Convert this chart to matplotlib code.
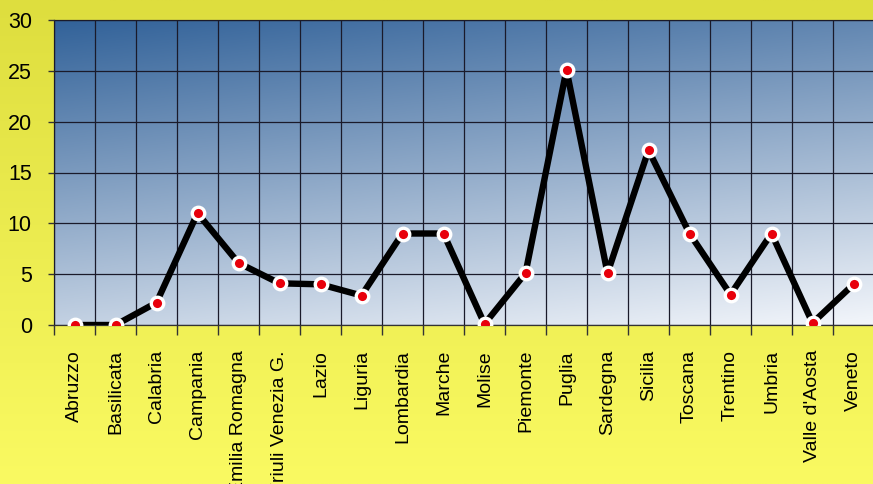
import numpy as np
import matplotlib
matplotlib.use("Agg")
import matplotlib.pyplot as plt
from matplotlib.ticker import FixedLocator, NullFormatter

regions = ["Abruzzo", "Basilicata", "Calabria", "Campania", "Emilia Romagna",
           "Friuli Venezia G.", "Lazio", "Liguria", "Lombardia", "Marche",
           "Molise", "Piemonte", "Puglia", "Sardegna", "Sicilia", "Toscana",
           "Trentino", "Umbria", "Valle d'Aosta", "Veneto"]
values = [0.0, 0.0, 2.2, 11.0, 6.1, 4.1, 4.0, 2.9, 9.0, 9.0,
          0.1, 5.1, 25.1, 5.1, 17.2, 9.0, 3.0, 9.0, 0.2, 4.0]
y_ticks = [0, 5, 10, 15, 20, 25, 30]

plt.rcParams['font.family'] = ['Liberation Sans', 'DejaVu Sans']

fig = plt.figure(figsize=(8.73, 4.84), dpi=100)

# figure background gradient (yellow)
bg = fig.add_axes([0, 0, 1, 1], zorder=-10)
bg.axis('off')
n = 256
t = np.linspace(0, 1, n)[:, None]  # 0 top -> 1 bottom
top = np.array([222, 222, 62]) / 255
bot = np.array([250, 250, 98]) / 255
img = top[None, None, :] * (1 - t[:, :, None]) + bot[None, None, :] * t[:, :, None]
img = np.repeat(img, 4, axis=1)
bg.imshow(img, aspect='auto', extent=[0, 1, 0, 1], origin='upper')
bg.set_xlim(0, 1)
bg.set_ylim(0, 1)

W, H = 873, 484
left, right, top_px, bottom_px = 54, 874, 20, 325
ax = fig.add_axes([left / W, (H - bottom_px) / H, (right - left) / W, (bottom_px - top_px) / H])

# plot area gradient (blue -> white, diagonal)
u = np.linspace(0, 1, 200)[None, :]
v = np.linspace(1, 0, 200)[:, None]
f = np.clip(0.75 * (1 - v) + 0.25 * u, 0, 1)
dark = np.array([50, 98, 153]) / 255
light = np.array([243, 246, 251]) / 255
grad = dark[None, None, :] * (1 - f[:, :, None]) + light[None, None, :] * f[:, :, None]
ax.imshow(grad, aspect='auto', extent=[0, 1, 0, 1], transform=ax.transAxes, zorder=0)

x = np.arange(len(regions))
ax.plot(x, values, color='black', lw=4.6, zorder=3, solid_capstyle='round')
ax.plot(x, values, ls='none', marker='o', markersize=9, markerfacecolor='#e8000b',
        markeredgecolor='white', markeredgewidth=2.4, zorder=4)

ax.set_xlim(-0.5, len(regions) - 0.5)
ax.set_ylim(0, 30)

ax.set_xticks(x)
ax.set_xticklabels(regions, rotation=90, fontsize=14, va='top')
ax.xaxis.set_minor_locator(FixedLocator(np.arange(-0.5, len(regions), 1.0)))
ax.xaxis.set_minor_formatter(NullFormatter())
ax.tick_params(axis='x', which='major', length=0, pad=18)
ax.tick_params(axis='x', which='minor', length=7, width=1, color='#333333', direction='out')

ax.set_yticks(y_ticks)
ax.set_yticklabels([str(v) for v in y_ticks], fontsize=15.5)
ax.tick_params(axis='y', which='major', length=4, width=1, color='#333333', pad=12)

ax.grid(True, which='minor', axis='x', color='#1a1a2a', lw=0.9, zorder=1)
ax.grid(True, which='major', axis='y', color='#1a1a2a', lw=0.9, zorder=1)
ax.set_axisbelow(False)
for ln in ax.get_xgridlines() + ax.get_ygridlines():
    ln.set_zorder(1)

for s in ax.spines.values():
    s.set_color('#333333')
    s.set_linewidth(0.9)
ax.spines['right'].set_visible(False)

fig.savefig('out.png', dpi=100)
